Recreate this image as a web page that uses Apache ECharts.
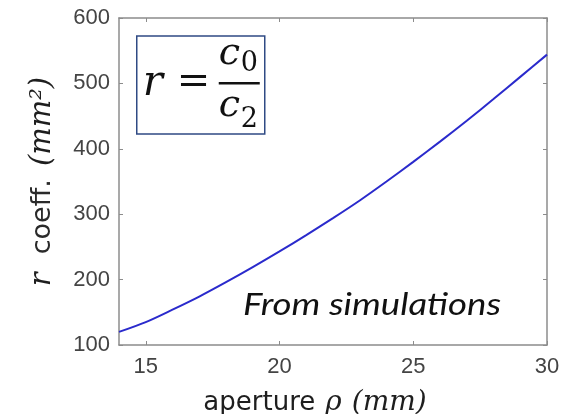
<!DOCTYPE html>
<html>
<head>
<meta charset="utf-8">
<script src="https://cdn.jsdelivr.net/npm/echarts@6/dist/echarts.min.js"></script>
<style>
  html, body { margin: 0; padding: 0; background: #ffffff; }
  #chart { width: 574px; height: 414px; }
</style>
</head>
<body>
<div id="chart"></div>
<script>
// Aperture radius rho (mm) and the simulated ratio r = c0 / c2 (mm^2)
const apertureMm = [14, 15, 16, 17, 18, 19, 20, 21, 22, 23, 24, 25, 26, 27, 28, 29, 30];
const rCoeff     = [120, 135, 154, 174, 196, 219, 243, 268, 294, 321, 350, 380, 411, 443, 476, 510, 544];

// Axis tick labels
const xTicks = [15, 20, 25, 30];
const yTicks = [100, 200, 300, 400, 500, 600];

const seriesData = apertureMm.map((x, i) => [x, rCoeff[i]]);

const axisGray = '#8c8c8c';
const tickText = '#444444';
const tickFont = '"Liberation Sans", Arial, sans-serif';
const mathFont = '"DejaVu Serif", serif';
const sansFont = '"DejaVu Sans", sans-serif';

const chart = echarts.init(document.getElementById('chart'), null, { renderer: 'canvas' });

chart.setOption({
  backgroundColor: '#ffffff',
  animation: false,
  grid: { left: 119, right: 27, top: 18, bottom: 69, containLabel: false, outerBoundsMode: 'none' },
  xAxis: [
    {
      type: 'value',
      min: apertureMm[0],
      max: apertureMm[apertureMm.length - 1],
      position: 'bottom',
      axisLine: { show: true, lineStyle: { color: axisGray, width: 1.5 } },
      axisTick: { show: true, inside: true, length: 4, customValues: xTicks, lineStyle: { color: axisGray } },
      axisLabel: {
        show: true, customValues: xTicks, margin: 11,
        color: tickText, fontFamily: tickFont, fontSize: 22
      },
      splitLine: { show: false },
      name: '{a|aperture}{g| }{m|ρ}{g| }{m|(mm)}',
      nameLocation: 'middle',
      nameGap: 44,
      nameTextStyle: {
        padding: [0, 36, 0, 0],
        rich: {
          a: { fontFamily: sansFont, fontSize: 26, color: '#1e1e1e' },
          g: { fontFamily: sansFont, fontSize: 26, width: 10 },
          m: { fontFamily: mathFont, fontStyle: 'italic', fontSize: 28, color: '#1e1e1e' }
        }
      }
    },
    {
      type: 'value',
      min: apertureMm[0],
      max: apertureMm[apertureMm.length - 1],
      position: 'top',
      axisLine: { show: true, lineStyle: { color: axisGray, width: 1.5 } },
      axisTick: { show: true, inside: true, length: 4, customValues: xTicks, lineStyle: { color: axisGray } },
      axisLabel: { show: false },
      splitLine: { show: false }
    }
  ],
  yAxis: [
    {
      type: 'value',
      min: yTicks[0],
      max: yTicks[yTicks.length - 1],
      interval: 100,
      position: 'left',
      axisLine: { show: true, lineStyle: { color: axisGray, width: 1.5 } },
      axisTick: { show: true, inside: true, length: 4, lineStyle: { color: axisGray } },
      axisLabel: {
        show: true, margin: 9,
        color: tickText, fontFamily: tickFont, fontSize: 22
      },
      splitLine: { show: false },
      name: '{m|r}{g1| }{a|coeff.}{g2| }{m|(mm²)}',
      nameLocation: 'middle',
      nameGap: 62,
      nameTextStyle: {
        rich: {
          a: { fontFamily: sansFont, fontSize: 27, color: '#2a2a2a' },
          g1: { fontFamily: sansFont, fontSize: 27, width: 18 },
          g2: { fontFamily: sansFont, fontSize: 27, width: 13 },
          m: { fontFamily: mathFont, fontStyle: 'italic', fontSize: 29, color: '#1e1e1e' }
        }
      }
    },
    {
      type: 'value',
      min: yTicks[0],
      max: yTicks[yTicks.length - 1],
      interval: 100,
      position: 'right',
      axisLine: { show: true, lineStyle: { color: axisGray, width: 1.5 } },
      axisTick: { show: true, inside: true, length: 4, lineStyle: { color: axisGray } },
      axisLabel: { show: false },
      splitLine: { show: false }
    }
  ],
  series: [
    {
      type: 'line',
      xAxisIndex: 0,
      yAxisIndex: 0,
      data: seriesData,
      smooth: 0.3,
      showSymbol: false,
      lineStyle: { color: '#2a2acc', width: 2 },
      silent: true
    }
  ],
  graphic: [
    // Boxed definition of the ratio
    {
      type: 'group',
      left: 136,
      top: 35,
      children: [
        {
          type: 'rect',
          shape: { x: 0, y: 0, width: 128, height: 98 },
          style: { fill: '#ffffff', stroke: '#2f4a84', lineWidth: 1.5 }
        },
        {
          type: 'text',
          x: 6, y: 48,
          style: { text: 'r', font: 'italic 42px "DejaVu Serif", serif', fill: '#111111', verticalAlign: 'middle' }
        },
        {
          type: 'text',
          x: 40, y: 47,
          style: { text: '=', font: '40px "DejaVu Serif", serif', fill: '#111111', verticalAlign: 'middle' }
        },
        {
          type: 'rect',
          shape: { x: 82, y: 46, width: 41, height: 2.5 },
          style: { fill: '#111111' }
        },
        {
          type: 'text',
          x: 82, y: 37,
          style: { text: 'c', font: 'italic 38px "DejaVu Serif", serif', fill: '#111111', verticalAlign: 'bottom' }
        },
        {
          type: 'text',
          x: 104, y: 41,
          style: { text: '0', font: '27px "DejaVu Serif", serif', fill: '#111111', verticalAlign: 'bottom' }
        },
        {
          type: 'text',
          x: 82, y: 89,
          style: { text: 'c', font: 'italic 38px "DejaVu Serif", serif', fill: '#111111', verticalAlign: 'bottom' }
        },
        {
          type: 'text',
          x: 104, y: 97,
          style: { text: '2', font: '27px "DejaVu Serif", serif', fill: '#111111', verticalAlign: 'bottom' }
        }
      ]
    },
    {
      type: 'text',
      x: 243,
      y: 290,
      scaleX: 1.22,
      style: { text: 'From simulations', font: 'italic 30px Lato, "Open Sans", sans-serif', fill: '#111111', verticalAlign: 'top' }
    }
  ]
});
</script>
</body>
</html>
